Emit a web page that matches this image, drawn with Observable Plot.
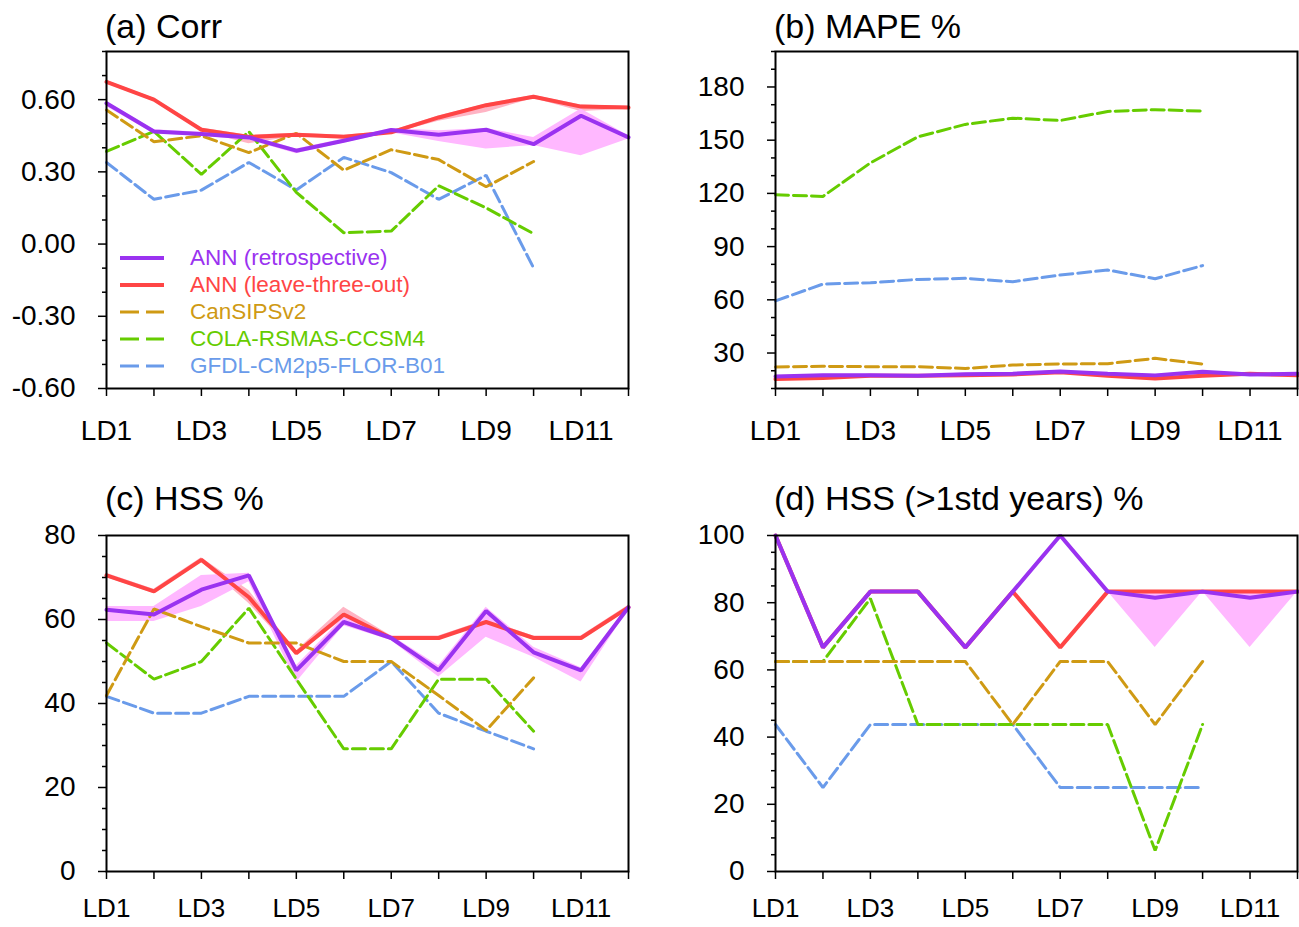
<!DOCTYPE html>
<html><head><meta charset="utf-8">
<script src="https://cdn.jsdelivr.net/npm/d3@7"></script>
<script src="https://cdn.jsdelivr.net/npm/@observablehq/plot@0.6"></script>
<style>
body{margin:0;background:#fff;}
#wrap{position:relative;width:1299px;height:927px;font-family:"Liberation Sans",Arial,sans-serif;overflow:hidden;}
.panel{position:absolute;}
.title{position:absolute;font-size:34px;color:#000;white-space:nowrap;line-height:1;}
.lg{position:absolute;font-size:22.5px;white-space:nowrap;line-height:1;}
</style></head><body><div id="wrap"></div>
<script>
// ---- categories / labels ----
const leadLabels = ["LD1","LD2","LD3","LD4","LD5","LD6","LD7","LD8","LD9","LD10","LD11","LD12"];
const seriesNames = ["ANN (retrospective)","ANN (leave-three-out)","CanSIPSv2","COLA-RSMAS-CCSM4","GFDL-CM2p5-FLOR-B01"];
const panelTitles = ["(a) Corr","(b) MAPE %","(c) HSS %","(d) HSS (>1std years) %"];

// ---- (a) Corr ----
const corrRetro   = [0.585,0.468,0.457,0.443,0.388,0.429,0.474,0.454,0.475,0.415,0.533,0.443];
const corrRetroLo = [0.572,0.458,0.448,0.432,0.375,0.420,0.462,0.426,0.395,0.410,0.367,0.437];
const corrRetroHi = [0.592,0.475,0.465,0.452,0.395,0.436,0.480,0.471,0.480,0.443,0.561,0.450];
const corrL3o     = [0.674,0.600,0.475,0.445,0.454,0.446,0.464,0.526,0.577,0.612,0.571,0.567];
const corrL3oLo   = [0.666,0.592,0.468,0.417,0.447,0.440,0.458,0.510,0.547,0.605,0.551,0.560];
const corrL3oHi   = [0.680,0.606,0.482,0.452,0.460,0.452,0.470,0.532,0.582,0.618,0.578,0.573];
const corrCansips = [0.557,0.425,0.450,0.380,0.460,0.307,0.392,0.351,0.238,0.343];
const corrCola    = [0.385,0.468,0.290,0.467,0.215,0.047,0.054,0.242,0.150,0.043];
const corrGfdl    = [0.339,0.186,0.224,0.339,0.225,0.360,0.297,0.186,0.286,-0.099];

// ---- (b) MAPE % ----
const mapeRetro   = [16.8,17.5,17.5,17.2,18.1,18.3,19.6,18.3,17.4,19.4,17.9,18.3];
const mapeRetroLo = [16.3,17.0,17.0,16.7,17.6,17.8,19.1,17.8,16.9,18.9,17.4,17.8];
const mapeRetroHi = [17.3,18.0,18.0,17.7,18.6,18.8,20.1,18.8,17.9,19.9,18.4,18.8];
const mapeL3o     = [15.3,15.9,17.2,17.2,17.4,17.9,19.2,17.2,15.7,17.2,18.3,17.5];
const mapeL3oLo   = [14.8,15.4,16.7,16.7,16.9,17.4,18.7,16.7,15.2,16.7,17.8,17.0];
const mapeL3oHi   = [15.8,16.4,17.7,17.7,17.9,18.4,19.7,17.7,16.2,17.7,18.8,18.0];
const mapeCansips = [22.1,22.5,22.3,22.3,21.3,23.2,23.8,24.0,27.0,23.8];
const mapeCola    = [119.2,118.3,137.2,151.9,158.9,162.4,161.1,166.2,167.2,166.4];
const mapeGfdl    = [59.4,68.9,69.6,71.5,72.1,70.2,74.0,76.8,71.9,79.3];

// ---- (c) HSS % ----
const hssRetro   = [62.3,61.2,67.1,70.5,47.9,59.4,55.6,47.9,62.0,52.2,47.9,62.9];
const hssRetroLo = [59.5,59.5,63.1,69.0,45.0,58.5,55.0,46.3,55.8,51.0,45.1,62.4];
const hssRetroHi = [63.1,63.1,70.5,71.0,49.0,60.5,56.2,49.0,62.9,53.4,48.5,63.2];
const hssL3o     = [70.5,66.7,74.2,65.3,52.0,61.2,55.6,55.6,59.4,55.6,55.6,62.9];
const hssL3oLo   = [70.0,66.2,73.7,63.8,51.5,60.1,55.1,55.1,58.9,55.1,55.1,62.4];
const hssL3oHi   = [71.0,67.2,74.7,66.9,52.5,62.9,56.1,56.1,59.9,56.1,56.1,63.4];
const hssCansips = [41.9,62.5,58.3,54.4,54.4,50.0,50.0,41.9,33.6,46.1];
const hssCola    = [54.4,45.8,50.0,62.7,45.8,29.2,29.2,45.8,45.8,33.4];
const hssGfdl    = [41.7,37.7,37.7,41.7,41.7,41.7,50.0,37.7,33.4,29.2];

// ---- (d) HSS (>1std years) % ----
const hss1Retro   = [100,66.7,83.3,83.3,66.7,83.3,100,83.3,81.5,83.3,81.5,83.3];
const hss1RetroLo = [100,66.7,83.3,83.3,66.7,83.3,100,83.3,66.7,83.3,66.7,83.3];
const hss1RetroHi = [100,66.7,83.3,83.3,66.7,83.3,100,83.3,83.3,83.3,83.3,83.3];
const hss1L3o     = [100,66.7,83.3,83.3,66.7,83.3,66.7,83.3,83.3,83.3,83.3,83.3];
const hss1L3oLo   = [100,66.7,83.3,83.3,66.7,83.3,66.7,83.3,82.5,83.3,82.5,83.3];
const hss1L3oHi   = [100,66.7,83.3,83.3,66.7,83.3,66.7,83.3,83.3,83.3,83.3,83.3];
const hss1Cansips = [62.5,62.5,62.5,62.5,62.5,43.75,62.5,62.5,43.75,62.5];
const hss1Cola    = [62.5,62.5,81.25,43.75,43.75,43.75,43.75,43.75,6.25,43.75];
const hss1Gfdl    = [43.75,25,43.75,43.75,43.75,43.75,25,25,25,25];

// ---- axis ticks ----
const corrTicks = [-0.6,-0.3,0,0.3,0.6];
const corrMinor = [-0.5,-0.4,-0.2,-0.1,0.1,0.2,0.4,0.5,0.7,0.8];
const mapeTicks = [30,60,90,120,150,180];
const mapeMinor = [10,20,40,50,70,80,100,110,130,140,160,170,190,200];
const hssTicks = [0,20,40,60,80];
const hssMinor = [5,10,15,25,30,35,45,50,55,65,70,75];
const hss1Ticks = [0,20,40,60,80,100];
const hss1Minor = [5,10,15,25,30,35,45,50,55,65,70,75,85,90,95];
const xLabelTicks = [1,3,5,7,9,11];
const xAllTicks = [1,2,3,4,5,6,7,8,9,10,11,12];

const C = {
  retro: "#9A32F0", l3o: "#FF4545", cansips: "#CF9A14", cola: "#66CC00", gfdl: "#6A9BEA",
  retroBand: "#FFB8FF", l3oBand: "#FFB4C4"
};
const seriesColors = [C.retro, C.l3o, C.cansips, C.cola, C.gfdl];

const wrap = document.getElementById("wrap");
const X = (d, i) => i + 1;
const V = d => d;

function panel(o) {
  const fig = Plot.plot({
    width: o.width, height: o.height,
    marginLeft: o.ml, marginRight: o.mr, marginTop: o.mt, marginBottom: o.mb,
    style: {fontFamily: "Liberation Sans, Arial, sans-serif", fontSize: "28px", color: "#000", background: "#fff", overflow: "visible"},
    x: {type: "linear", domain: [1, 12], label: null},
    y: {type: "linear", domain: o.yDomain, label: null},
    marks: [
      Plot.areaY(o.l3oLo, {x: X, y1: V, y2: (d, i) => o.l3oHi[i], fill: C.l3oBand}),
      Plot.areaY(o.retroLo, {x: X, y1: V, y2: (d, i) => o.retroHi[i], fill: C.retroBand}),
      Plot.line(o.gfdl, {x: X, y: V, stroke: C.gfdl, strokeWidth: 3, strokeDasharray: "13,5", strokeLinejoin: "miter"}),
      Plot.line(o.cola, {x: X, y: V, stroke: C.cola, strokeWidth: 3, strokeDasharray: "13,5", strokeLinejoin: "miter"}),
      Plot.line(o.cansips, {x: X, y: V, stroke: C.cansips, strokeWidth: 3, strokeDasharray: "13,5", strokeLinejoin: "miter"}),
      Plot.line(o.l3o, {x: X, y: V, stroke: C.l3o, strokeWidth: 4, strokeLinejoin: "miter"}),
      Plot.line(o.retro, {x: X, y: V, stroke: C.retro, strokeWidth: 4, strokeLinejoin: "miter"}),
      Plot.frame({stroke: "#000", strokeWidth: 2}),
      Plot.axisX(xAllTicks, {tickSize: 8, tickFormat: () => "", strokeWidth: 1.5, label: null}),
      Plot.axisX(xLabelTicks, {tickSize: 0, tickPadding: o.xPad, fontSize: o.xFont, tickFormat: d => leadLabels[d - 1], label: null}),
      Plot.axisY(o.yMinor, {tickSize: 4, tickFormat: () => "", strokeWidth: 1.5, label: null}),
      Plot.axisY(o.yTicks, {tickSize: 8, tickPadding: 23, tickFormat: o.fmt, strokeWidth: 1.5, label: null})
    ]
  });
  fig.classList.add("panel");
  fig.style.left = o.left + "px";
  fig.style.top = o.top + "px";
  wrap.appendChild(fig);
  const t = document.createElement("div");
  t.className = "title";
  t.textContent = o.title;
  t.style.left = o.tx + "px";
  t.style.top = o.ty + "px";
  wrap.appendChild(t);
}

const fmt2 = d => (d < 0 ? "-" : "") + Math.abs(d).toFixed(2);
const fmt0 = d => String(d);

panel({title: panelTitles[0], tx: 105, ty: 9, left: 0, top: 0, width: 649, height: 460, ml: 106, mr: 21, mt: 51, mb: 72,
  xPad: 32, xFont: 28,
  yDomain: [-0.6, 0.8], yTicks: corrTicks, yMinor: corrMinor, fmt: fmt2,
  retro: corrRetro, retroLo: corrRetroLo, retroHi: corrRetroHi, l3o: corrL3o, l3oLo: corrL3oLo, l3oHi: corrL3oHi,
  cansips: corrCansips, cola: corrCola, gfdl: corrGfdl});
panel({title: panelTitles[1], tx: 774, ty: 9, left: 649, top: 0, width: 650, height: 460, ml: 126, mr: 2, mt: 51, mb: 72,
  xPad: 32, xFont: 28,
  yDomain: [10, 200], yTicks: mapeTicks, yMinor: mapeMinor, fmt: fmt0,
  retro: mapeRetro, retroLo: mapeRetroLo, retroHi: mapeRetroHi, l3o: mapeL3o, l3oLo: mapeL3oLo, l3oHi: mapeL3oHi,
  cansips: mapeCansips, cola: mapeCola, gfdl: mapeGfdl});
panel({title: panelTitles[2], tx: 105, ty: 481, left: 0, top: 460, width: 649, height: 467, ml: 106, mr: 21, mt: 75, mb: 56,
  xPad: 27, xFont: 26,
  yDomain: [0, 80], yTicks: hssTicks, yMinor: hssMinor, fmt: fmt0,
  retro: hssRetro, retroLo: hssRetroLo, retroHi: hssRetroHi, l3o: hssL3o, l3oLo: hssL3oLo, l3oHi: hssL3oHi,
  cansips: hssCansips, cola: hssCola, gfdl: hssGfdl});
panel({title: panelTitles[3], tx: 774, ty: 481, left: 649, top: 460, width: 650, height: 467, ml: 126, mr: 2, mt: 75, mb: 56,
  xPad: 27, xFont: 26,
  yDomain: [0, 100], yTicks: hss1Ticks, yMinor: hss1Minor, fmt: fmt0,
  retro: hss1Retro, retroLo: hss1RetroLo, retroHi: hss1RetroHi, l3o: hss1L3o, l3oLo: hss1L3oLo, l3oHi: hss1L3oHi,
  cansips: hss1Cansips, cola: hss1Cola, gfdl: hss1Gfdl});

// ---- legend inside panel (a) ----
const lgRowsY = [258, 285, 312, 339, 366];
seriesNames.forEach((name, i) => {
  const dashed = i >= 2;
  const s = document.createElementNS("http://www.w3.org/2000/svg", "svg");
  s.setAttribute("width", 46); s.setAttribute("height", 10);
  s.style.position = "absolute"; s.style.left = "119px"; s.style.top = (lgRowsY[i] - 5) + "px";
  const ln = document.createElementNS("http://www.w3.org/2000/svg", "line");
  ln.setAttribute("x1", 1); ln.setAttribute("x2", 45); ln.setAttribute("y1", 5); ln.setAttribute("y2", 5);
  ln.setAttribute("stroke", seriesColors[i]);
  ln.setAttribute("stroke-width", dashed ? 3 : 4);
  if (dashed) ln.setAttribute("stroke-dasharray", "19,7");
  s.appendChild(ln);
  wrap.appendChild(s);
  const t = document.createElement("div");
  t.className = "lg";
  t.textContent = name;
  t.style.color = seriesColors[i];
  t.style.left = "190px";
  t.style.top = (lgRowsY[i] - 11) + "px";
  wrap.appendChild(t);
});
</script></body></html>
